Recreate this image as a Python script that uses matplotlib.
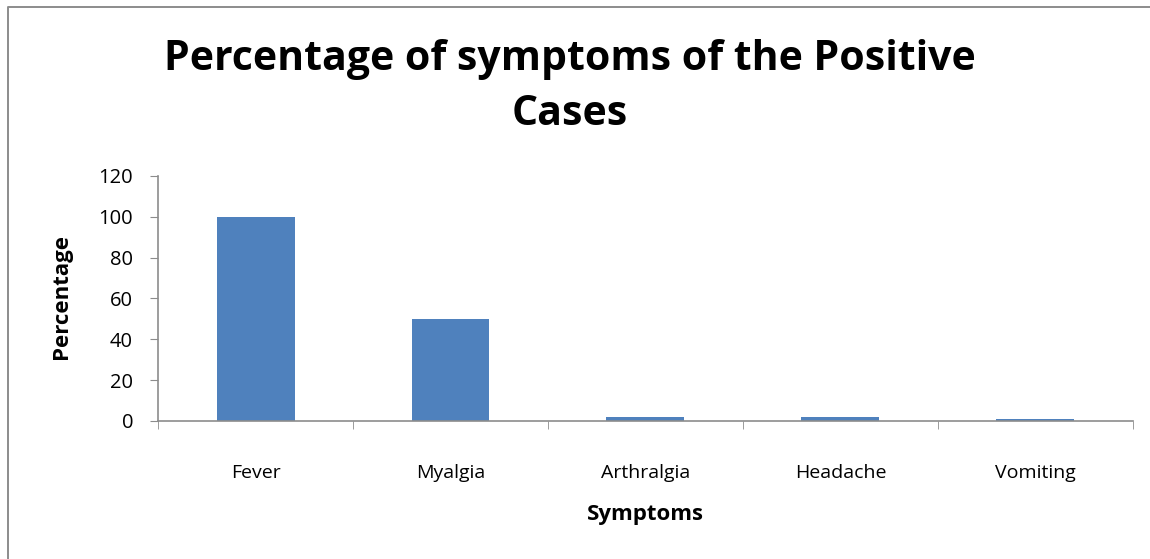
import matplotlib.pyplot as plt
from matplotlib.lines import Line2D

symptoms = ['Fever', 'Myalgia', 'Arthralgia', 'Headache', 'Vomiting']
percentages = [100, 50, 2, 2, 1]
y_ticks = [0, 20, 40, 60, 80, 100, 120]

plt.rcParams['font.family'] = ['Open Sans', 'DejaVu Sans']

fig = plt.figure(figsize=(11.5, 5.59), dpi=100)
ax = fig.add_axes([0.1374, 0.2469, 0.8478, 0.4383])

# outer chart border (only left and top edges are visible in the crop)
bx, by = 7.5 / 1150, 1 - 6.5 / 559
fig.lines.append(Line2D([bx, bx, 1.0], [0.0, by, by], transform=fig.transFigure,
                        color='#8c8c8c', linewidth=1.4))

x = range(len(symptoms))
ax.bar(x, percentages, width=0.4, color='#4f81bd')

ax.set_xlim(-0.5, len(symptoms) - 0.5)
ax.set_ylim(0, 120)
ax.set_yticks(y_ticks)
ax.tick_params(axis='y', labelsize=14.5, length=6, color='#8c8c8c', pad=12)

ax.set_xticks(list(x))
ax.set_xticklabels(symptoms)
ax.tick_params(axis='x', labelsize=14, length=0, pad=31)
# category boundary ticks
ax.set_xticks([i - 0.5 for i in range(len(symptoms) + 1)], minor=True)
ax.tick_params(axis='x', which='minor', length=6, color='#8c8c8c', direction='out')

for side in ['top', 'right']:
    ax.spines[side].set_visible(False)
for side in ['left', 'bottom']:
    ax.spines[side].set_color('#8c8c8c')
    ax.spines[side].set_linewidth(1.2)

ax.set_xlabel('Symptoms', fontsize=16, fontweight='bold', va='center')
ax.xaxis.set_label_coords(0.5, -0.3837)
ax.set_ylabel('Percentage', fontsize=16, fontweight='bold', va='center')
ax.yaxis.set_label_coords(-0.0995, 0.51)

fig.text(0.4957, 1 - 70 / 559, 'Percentage of symptoms of the Positive', ha='center',
         va='baseline', fontsize=29.5, fontweight='bold')
fig.text(0.4957, 1 - 125 / 559, 'Cases', ha='center', va='baseline',
         fontsize=29.5, fontweight='bold')

fig.savefig('out.png', dpi=100)
